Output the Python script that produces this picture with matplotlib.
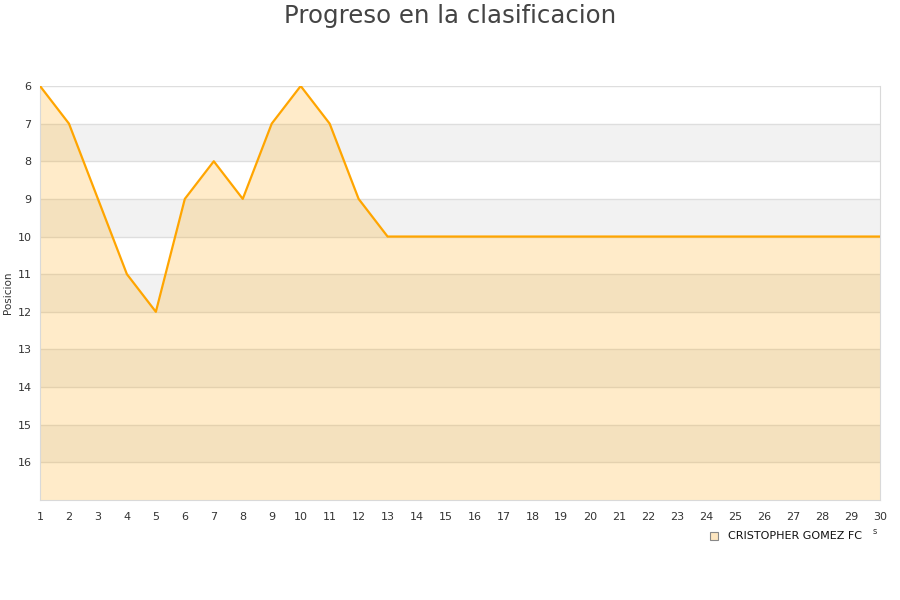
import matplotlib
matplotlib.use("Agg")
import matplotlib.pyplot as plt
from matplotlib.patches import Rectangle

rounds = list(range(1, 31))
positions = [6, 7, 9, 11, 12, 9, 8, 9, 7, 6, 7, 9, 10, 10, 10, 10, 10, 10, 10, 10,
             10, 10, 10, 10, 10, 10, 10, 10, 10, 10]
y_ticks = list(range(6, 17))
team = "CRISTOPHER GOMEZ FC"

fig = plt.figure(figsize=(9, 6), dpi=100)
ax = fig.add_axes([40 / 900, 100 / 600, 840 / 900, 414 / 600])

y_min, y_max = 6, 17
ax.set_xlim(rounds[0], rounds[-1])
ax.set_ylim(y_max, y_min)

# alternating horizontal bands
for y in range(y_min, y_max):
    if (y - y_min) % 2 == 1:
        ax.axhspan(y, y + 1, color="#f2f2f2", zorder=0, lw=0)
for y in y_ticks:
    ax.axhline(y, color="#dedede", lw=1, zorder=1)

ax.fill_between(rounds, positions, y_max, color="#ffa500", alpha=0.21, lw=0, zorder=2)
ax.plot(rounds, positions, color="#ffa500", lw=1.6, zorder=3)

ax.set_xticks(rounds)
ax.set_yticks(y_ticks)
ax.tick_params(axis="both", length=0, labelsize=8, colors="#333333", pad=6)
ax.tick_params(axis="x", pad=9)
for side in ["left", "right", "bottom"]:
    ax.spines[side].set_color("#d9d9d9")
ax.spines["top"].set_visible(False)
ax.set_ylabel("Posicion", fontsize=7.5, color="#333333")
ax.yaxis.set_label_coords(-0.0325, 0.5)

fig.text(0.5, 1 - 16 / 600, "Progreso en la clasificacion", ha="center", va="center",
         fontsize=17.6, color="#444444")

# legend
fig.patches.append(Rectangle((710 / 900, 1 - 540 / 600), 8 / 900, 8 / 600,
                             transform=fig.transFigure, facecolor="#fde6c0",
                             edgecolor="#888888", lw=0.8))
fig.text(728 / 900, 1 - 536 / 600, team, ha="left", va="center", fontsize=8, color="#111111")
fig.text(875 / 900, 1 - 532 / 600, "s", ha="center", va="center", fontsize=6, color="#333333")

fig.savefig("out.png", dpi=100)
